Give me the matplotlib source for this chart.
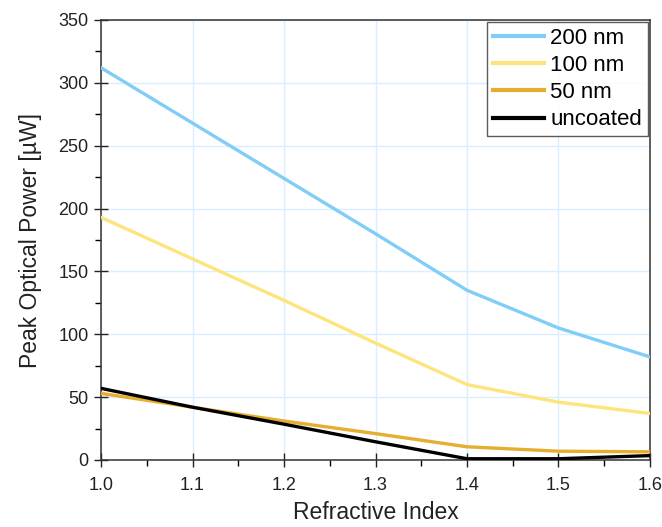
import matplotlib
matplotlib.use("Agg")
import matplotlib.pyplot as plt
from matplotlib.ticker import MultipleLocator

plt.rcParams["font.family"] = ["Liberation Sans", "DejaVu Sans"]

refractive_index = [1.0, 1.1, 1.2, 1.3, 1.4, 1.5, 1.6]
power_200nm = [312, 268, 224, 180, 135, 105, 82]
power_100nm = [193, 160, 127, 93, 60, 46, 37]
power_50nm = [53, 42, 31, 21, 10.5, 7, 6.5]
power_uncoated = [57, 42, 28.5, 14.5, 1, 1, 3.5]

series = [
    ("200 nm", power_200nm, "#80cdf7"),
    ("100 nm", power_100nm, "#fde47d"),
    ("50 nm", power_50nm, "#e6ae2e"),
    ("uncoated", power_uncoated, "#000000"),
]

fig = plt.figure(figsize=(6.62, 5.27), dpi=100)
ax = fig.add_axes([101 / 662, 67 / 527, 549 / 662, 440 / 527])

for label, values, color in series:
    ax.plot(refractive_index, values, color=color, lw=2.4, label=label,
            solid_joinstyle="miter", zorder=3)

ax.set_xlim(1.0, 1.6)
ax.set_ylim(0, 350)
ax.xaxis.set_major_locator(MultipleLocator(0.1))
ax.xaxis.set_minor_locator(MultipleLocator(0.05))
ax.yaxis.set_major_locator(MultipleLocator(50))
ax.yaxis.set_minor_locator(MultipleLocator(25))
ax.set_xticklabels([f"{v:.1f}" for v in ax.get_xticks()])

ax.grid(True, which="major", color="#d9efff", lw=1.0, zorder=0)
ax.tick_params(which="major", direction="inout", length=10, width=1.0,
               labelsize=13, colors="#222222")
ax.tick_params(axis="x", which="major", pad=7)
ax.tick_params(axis="y", which="major", pad=4)
ax.tick_params(which="minor", direction="out", length=4, width=1.0)
for spine in ax.spines.values():
    spine.set_linewidth(1.1)
    spine.set_color("#333333")

ax.set_xlabel("Refractive Index", fontsize=16.5, color="#222222", labelpad=5)
ax.set_ylabel("Peak Optical Power [µW]", fontsize=16.5, color="#222222", labelpad=12)

leg = ax.legend(loc="upper right", fontsize=16, frameon=True, fancybox=False,
                borderaxespad=0.1, handlelength=2.3, handletextpad=0.3,
                labelspacing=0.28, borderpad=0.25)
leg.get_frame().set_edgecolor("#333333")
leg.get_frame().set_linewidth(1.0)
for line in leg.get_lines():
    line.set_linewidth(3.0)

fig.savefig("out.png", dpi=100)
